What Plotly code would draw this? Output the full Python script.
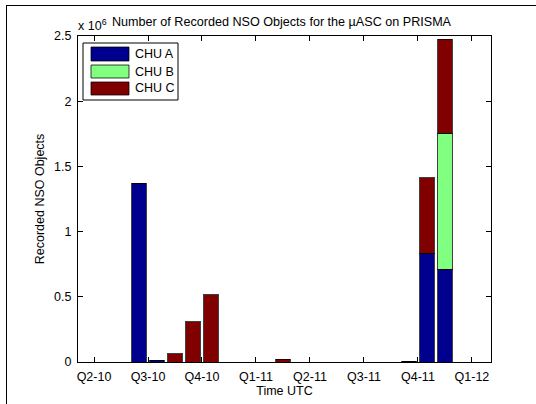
import plotly.graph_objects as go

# ---- data ----
months = ["Apr-10", "May-10", "Jun-10", "Jul-10", "Aug-10", "Sep-10", "Oct-10",
          "Nov-10", "Dec-10", "Jan-11", "Feb-11", "Mar-11", "Apr-11", "May-11",
          "Jun-11", "Jul-11", "Aug-11", "Sep-11", "Oct-11", "Nov-11", "Dec-11", "Jan-12"]
chu_a = [0, 0, 1.37e6, 0.012e6, 0, 0, 0, 0, 0, 0, 0, 0, 0, 0, 0, 0, 0, 0.006e6, 0.835e6, 0.71e6, 0, 0]
chu_b = [0, 0, 0, 0, 0, 0, 0, 0, 0, 0, 0, 0, 0, 0, 0, 0, 0, 0, 0, 1.045e6, 0, 0]
chu_c = [0, 0, 0, 0, 0.062e6, 0.31e6, 0.515e6, 0, 0, 0, 0.02e6, 0, 0, 0, 0, 0, 0, 0, 0.577e6, 0.72e6, 0, 0]
series_names = ["CHU A", "CHU B", "CHU C"]
series_colors = ["#00008F", "#80FF80", "#800000"]
tick_labels = ["Q2-10", "Q3-10", "Q4-10", "Q1-11", "Q2-11", "Q3-11", "Q4-11", "Q1-12"]
ytick_vals = [0, 0.5e6, 1e6, 1.5e6, 2e6, 2.5e6]
ytick_text = ["0", "0.5", "1", "1.5", "2", "2.5"]

W, H = 536, 404
ML, MR, MT, MB = 78, 45, 36, 42
PW, PH = W - ML - MR, H - MT - MB

FONT = "Liberation Sans, Arial, sans-serif"

x_pos = [i + 0.5 for i in range(len(months))]

fig = go.Figure()
for name, vals, col in zip(series_names, [chu_a, chu_b, chu_c], series_colors):
    fig.add_trace(go.Bar(
        x=x_pos, y=vals, name=name, width=0.82,
        marker=dict(color=col, line=dict(color="rgba(0,0,0,0.75)", width=1)),
        showlegend=False, hoverinfo="skip"))

fig.update_layout(
    barmode="stack",
    width=W, height=H,
    margin=dict(l=ML, r=MR, t=MT, b=MB, pad=0, autoexpand=False),
    paper_bgcolor="white", plot_bgcolor="white",
    font=dict(family=FONT, size=12.5, color="black"),
    showlegend=False,
)
fig.update_xaxes(
    range=[-0.89, 22.06], tickmode="array",
    tickvals=[3 * i for i in range(len(tick_labels))], ticktext=tick_labels,
    ticks="inside", ticklen=5, tickcolor="black", showline=True, linecolor="black",
    linewidth=1, mirror="ticks", showgrid=False, zeroline=False,
    ticklabelstandoff=3, automargin=False,
    title=dict(text="Time UTC", font=dict(size=12.5), standoff=3),
)
fig.update_yaxes(
    range=[0, 2.5e6], tickmode="array", tickvals=ytick_vals, ticktext=ytick_text,
    ticks="inside", ticklen=5, tickcolor="black", showline=True, linecolor="black",
    linewidth=1, mirror="ticks", showgrid=False, zeroline=False,
    ticklabelstandoff=3, automargin=False,
    title=dict(text="Recorded NSO Objects", font=dict(size=12.5), standoff=6),
)

def px_x(p):
    return (p - ML) / PW

def px_y(p):
    return (H - MB - p) / PH

# title and exponent
fig.add_annotation(x=px_x(282), y=px_y(22), xref="paper", yref="paper",
                   text="Number of Recorded NSO Objects for the µASC on PRISMA",
                   showarrow=False, font=dict(size=12.6), xanchor="center", yanchor="middle")
fig.add_annotation(x=px_x(76), y=px_y(25), xref="paper", yref="paper",
                   text="x 10<sup>6</sup>", showarrow=False, font=dict(size=12.5),
                   xanchor="left", yanchor="middle")

# legend box (manual, MATLAB style)
shapes = [dict(type="rect", xref="paper", yref="paper", x0=px_x(83), x1=px_x(178),
               y0=px_y(100), y1=px_y(43), line=dict(color="black", width=1),
               fillcolor="white")]
rows = [(47, 61), (65, 78), (82, 95)]
for (t, b), name, col in zip(rows, series_names, series_colors):
    shapes.append(dict(type="rect", xref="paper", yref="paper", x0=px_x(91), x1=px_x(129),
                       y0=px_y(b), y1=px_y(t), line=dict(color="rgba(0,0,0,0.75)", width=1),
                       fillcolor=col))
    fig.add_annotation(x=px_x(133), y=px_y((t + b) / 2), xref="paper", yref="paper",
                       text=name, showarrow=False, font=dict(size=12.5),
                       xanchor="left", yanchor="middle")
# outer figure frame (top and left edges)
shapes.append(dict(type="line", xref="paper", yref="paper", x0=px_x(6), x1=px_x(W),
                   y0=px_y(5.5), y1=px_y(5.5), line=dict(color="black", width=1)))
shapes.append(dict(type="line", xref="paper", yref="paper", x0=px_x(6.5), x1=px_x(6.5),
                   y0=px_y(5), y1=px_y(H), line=dict(color="black", width=1)))
fig.update_layout(shapes=shapes)

fig.write_html("out.html")
